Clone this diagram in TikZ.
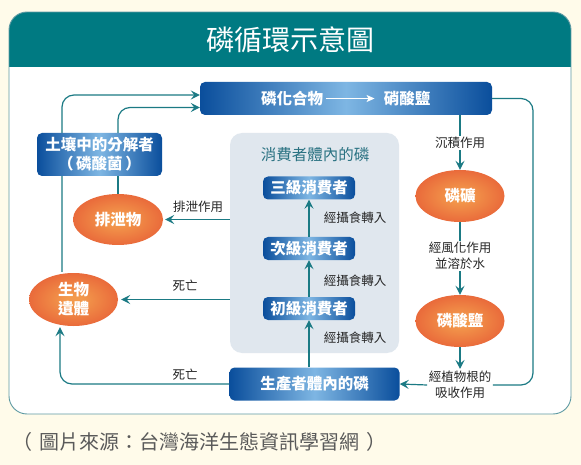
\documentclass[tikz,border=0pt]{standalone}
\usepackage{fontspec}
\setmainfont{Noto Sans CJK TC}
\usetikzlibrary{arrows.meta,shapes.geometric}
\definecolor{bgc}{HTML}{FFFBEA}
\definecolor{headc}{HTML}{007A82}
\definecolor{framec}{HTML}{5E9AA3}
\definecolor{linec}{HTML}{1B7A84}
\definecolor{dblue}{HTML}{0A4E9C}
\definecolor{lblue}{HTML}{7EB6E3}
\definecolor{panelc}{HTML}{E0E7EE}
\definecolor{paneltxt}{HTML}{2A7282}
\definecolor{oin}{HTML}{F39A4C}
\definecolor{oout}{HTML}{DE3226}
\definecolor{foot}{HTML}{5A5A5A}
\pgfdeclareradialshading{orb}{\pgfpoint{0bp}{0bp}}{color(0bp)=(oin); color(4bp)=(oin); color(50bp)=(oout)}
\tikzset{
  bluebox/.style={rounded corners=5pt, left color=dblue, right color=dblue, middle color=lblue,
    text=white, font=\fontsize{15.5}{19}\selectfont\bfseries, inner sep=0pt, align=center},
  orb/.style={ellipse, shading=orb, text=white, font=\fontsize{15.5}{19}\selectfont\bfseries,
    inner sep=0pt, align=center},
  lbl/.style={font=\fontsize{12.5}{16}\selectfont, text=black!85, inner sep=1.5pt, align=center},
  conn/.style={draw=linec, line width=1.2pt, -{Stealth[length=9pt,width=9pt,inset=3.5pt]}},
  connline/.style={draw=linec, line width=1.2pt}
}
\begin{document}
\begin{tikzpicture}[x=1pt,y=-1pt]
\fill[bgc] (0,0) rectangle (581,465);
\useasboundingbox (0,0) rectangle (581,465);
% frame
\fill[white, rounded corners=18pt] (9,12) rectangle (571,414);
\begin{scope}
  \clip[rounded corners=18pt] (9,12) rectangle (571,414);
  \fill[headc] (9,12) rectangle (571,67);
\end{scope}
\draw[framec, line width=0.9pt, rounded corners=18pt] (9,12) rectangle (571,414);
\node[text=white, font=\fontsize{28}{32}\selectfont] (title) at (290,40) {磷循環示意圖};

% panel
\node[fill=panelc, rounded corners=12pt, minimum width=169pt, minimum height=220pt, inner sep=0pt] (panel) at (314.5,243) {};
\node[font=\fontsize{15.5}{19}\selectfont, text=paneltxt] (ptitle) at (315,155) {消費者體內的磷};

% top box
\node[bluebox, minimum width=292pt, minimum height=33pt] (top) at (346,98.5) {};
\node[text=white, font=\fontsize{15.5}{19}\selectfont\bfseries, inner sep=0pt] (t1) at (292,98.5) {磷化合物};
\node[text=white, font=\fontsize{15.5}{19}\selectfont\bfseries, inner sep=0pt] (t2) at (407,98.5) {硝酸鹽};
\draw[white, line width=1pt, -{Stealth[length=8pt,width=7pt,inset=2pt]}] ([xshift=3pt]t1.east) -- ([xshift=-9pt]t2.west);

% ellipses
\node[orb, minimum width=89pt, minimum height=53pt] (yiti) at (73.5,299.5) {生物\\遺體};
\node[orb, minimum width=90pt, minimum height=51pt] (paixie) at (118,219.5) {排泄物};
\node[orb, minimum width=89pt, minimum height=52pt] (kuang) at (460,196) {磷礦};
\node[orb, minimum width=89pt, minimum height=52pt] (suanyan) at (460,321) {磷酸鹽};

% outer line from remains to top box (behind decomposer box)
\draw[conn, rounded corners=12pt] ([xshift=-11.5pt,yshift=1pt]yiti.north) |- ([yshift=3.5pt]top.west);

% decomposer box
\node[bluebox, minimum width=125pt, minimum height=43pt] (decomp) at (99.5,154.5) {土壤中的分解者\\（\,磷酸菌\,）};
\draw[connline] (paixie.north) -- (paixie.north |- decomp.south);
\draw[conn, rounded corners=12pt] (paixie.north |- decomp.north) |- ([yshift=-9pt]top.west);

% consumers
\node[bluebox, minimum width=92pt, minimum height=23pt] (san) at (309,188) {三級消費者};
\node[bluebox, minimum width=92pt, minimum height=23pt] (ci) at (309,248.5) {次級消費者};
\node[bluebox, minimum width=92pt, minimum height=23pt] (chu) at (309,308.5) {初級消費者};
\node[bluebox, minimum width=170pt, minimum height=33pt] (prod) at (314.5,384) {生產者體內的磷};

\draw[conn] (prod.north -| chu.south) -- (chu.south);
\draw[conn] (chu.north) -- (ci.south);
\draw[conn] (ci.north) -- (san.south);
\node[lbl] (e1) at (355,218) {經攝食轉入};
\node[lbl] (e2) at (355,281) {經攝食轉入};
\node[lbl] (e3) at (355,338) {經攝食轉入};

% left arrows
\draw[conn] (panel.west |- paixie) -- ([xshift=2pt]paixie.east);
\node[lbl] (l1) at (198,207) {排泄作用};
\draw[conn] (panel.west |- yiti) -- ([xshift=3pt]yiti.east);
\node[lbl] (l2) at (185,286) {死亡};
\draw[conn, rounded corners=12pt] (prod.west) -| ([xshift=-13.5pt,yshift=-1pt]yiti.south);
\node[lbl] (l3) at (185,375) {死亡};

% right column
\node[lbl] (sed) at (460,143) {沉積作用};
\node[lbl] (wea) at (460,256) {經風化作用\\並溶於水};
\node[lbl] (abs) at (460,384.5) {經植物根的\\吸收作用};
\draw[connline] (top.south -| sed) -- (sed.north);
\draw[conn] (sed.south) -- (kuang.north);
\draw[connline] (kuang.south) -- (wea.north);
\draw[conn] (wea.south) -- (suanyan.north);
\draw[conn] (suanyan.south) -- (abs.north);
\coordinate (rc) at (533,385);
\draw[connline, rounded corners=12pt] (top.east) -| (rc) -- (abs.east |- rc);
\draw[conn] (abs.west |- rc) -- (prod.east);

% footer
\node[anchor=west, text=foot, font=\fontsize{20}{24}\selectfont, inner sep=0pt] (src) at (12,442) {（\hspace{7pt}圖片來源：台灣海洋生態資訊學習網\hspace{7pt}）};
\end{tikzpicture}
\end{document}
